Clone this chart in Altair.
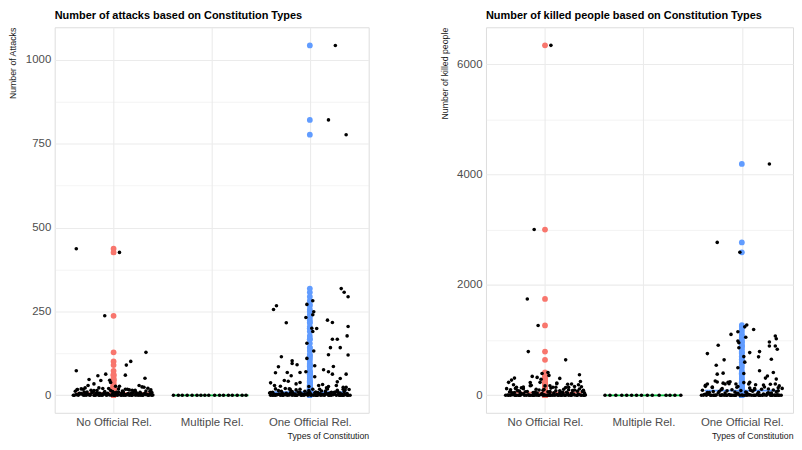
import altair as alt
import pandas as pd

categories = ["No Official Rel.", "Multiple Rel.", "One Official Rel."]
cat_colors = ["#F8766D", "#00BA38", "#619CFF"]

# ---------------- Number of attacks ----------------
att_none_vals = [437, 426, 237, 128, 101, 90, 73, 63, 58, 60,
                 47, 51, 44, 45, 38, 34, 29, 27, 27, 29,
                 24, 19, 22, 18, 16, 20, 15, 14, 21, 13, 17]
att_none_jit = [-0.38, 0.06, -0.09, 0.33, 0.175, 0.13, -0.38, -0.08, -0.16, 0.12,
                -0.25, 0.32, -0.13, -0.04, -0.03, -0.20, -0.26, 0.02, 0.06, 0.26,
                0.31, -0.33, -0.29, 0.14, 0.38, -0.05, 0.22, -0.17, 0.35, 0.09, -0.37]
att_none_low_vals = [0, 2, 0, 5, 1, 0, 3, 0, 8, 0,
                     1, 4, 0, 0, 6, 2, 0, 1, 0, 3,
                     0, 9, 0, 1, 0, 2, 0, 5, 0, 0,
                     7, 1, 0, 3, 0, 0, 2, 0, 4, 1,
                     0, 6, 0, 2, 0, 0, 1, 3, 0, 10,
                     0, 2, 0, 1, 0, 4, 0, 0, 5, 1]
att_none_low_jit = [-0.41, -0.38, -0.36, -0.33, -0.31, -0.28, -0.27, -0.24, -0.22, -0.20,
                    -0.18, -0.17, -0.14, -0.12, -0.10, -0.08, -0.07, -0.04, -0.02, -0.01,
                    0.01, 0.03, 0.04, 0.07, 0.08, 0.11, 0.12, 0.15, 0.16, 0.19,
                    0.20, 0.23, 0.25, 0.26, 0.29, 0.30, 0.33, 0.35, 0.37, 0.40,
                    -0.40, -0.35, -0.30, -0.25, -0.19, -0.15, -0.11, -0.06, 0.00, 0.05,
                    0.10, 0.14, 0.18, 0.22, 0.27, 0.31, 0.36, 0.39, -0.34, 0.02]
att_none_mid_vals = [12, 4, 18, 7, 2, 15, 9, 5, 22, 3,
                     11, 6, 14, 8, 3, 19, 5, 10, 2, 16,
                     7, 13, 4, 9, 25, 6, 3, 12, 8, 17,
                     5, 10, 2, 14, 7, 20, 4, 11, 6, 9,
                     3, 15, 8, 5, 13, 2, 10, 6, 18, 4]
att_none_mid_jit = [-0.39, -0.35, -0.31, -0.29, -0.26, -0.23, -0.21, -0.18, -0.15, -0.12,
                    -0.09, -0.06, -0.03, 0.00, 0.03, 0.05, 0.08, 0.10, 0.13, 0.16,
                    0.18, 0.21, 0.24, 0.27, 0.29, 0.32, 0.34, 0.37, 0.39, -0.37,
                    -0.33, -0.27, -0.24, -0.20, -0.16, -0.11, -0.07, -0.01, 0.04, 0.09,
                    0.14, 0.19, 0.23, 0.28, 0.33, 0.38, -0.30, -0.14, 0.12, 0.25]

att_multi_vals = [0, 0, 0, 0, 0, 0, 0, 0, 0, 0, 0, 0, 0, 0, 0, 0, 0]
att_multi_jit = [-0.39, -0.34, -0.30, -0.25, -0.20, -0.15, -0.11, -0.07, -0.03,
                 0.03, 0.08, 0.12, 0.17, 0.21, 0.26, 0.31, 0.35]

att_one_vals = [1043, 821, 777, 318, 307, 294, 267, 256, 216, 224,
                217, 200, 199, 205, 167, 167, 177, 142, 142, 121,
                120, 115, 103, 95, 91, 85, 88, 86, 76, 70,
                67, 68, 68, 70, 63, 63, 58, 55, 50, 44,
                42, 34, 38, 40, 37, 29, 27, 26, 29, 32,
                26, 29, 24, 19, 18, 18, 18, 19, 18, 282,
                271, 249, 240, 232, 190, 155, 132, 110]
att_one_jit = [0.26, 0.19, 0.37, 0.32, 0.35, 0.39, -0.34, -0.37, -0.24, 0.18,
               0.23, 0.02, 0.07, 0.39, 0.23, 0.28, 0.38, 0.21, 0.31, 0.19,
               0.39, -0.29, -0.18, -0.18, -0.13, -0.32, 0.05, 0.24, 0.14, 0.19,
               -0.35, -0.23, -0.10, -0.04, 0.23, 0.37, -0.19, 0.05, 0.31, -0.26,
               -0.22, -0.14, -0.10, 0.28, -0.40, -0.36, -0.30, -0.01, 0.09, 0.13,
               0.19, 0.27, 0.34, -0.35, -0.20, -0.10, 0.10, 0.18, 0.34, 0.03,
               -0.03, 0.04, 0.03, -0.04, 0.03, -0.03, 0.04, -0.03]
att_one_low_vals = [0, 1, 0, 3, 0, 0, 2, 0, 6, 0,
                    1, 0, 4, 0, 0, 2, 0, 8, 1, 0,
                    0, 3, 0, 1, 0, 5, 0, 0, 2, 0,
                    11, 0, 1, 0, 3, 0, 0, 7, 0, 2,
                    0, 1, 0, 0, 4, 0, 2, 0, 9, 0,
                    1, 0, 3, 0, 0, 6, 0, 1, 0, 2]
att_one_low_jit = [-0.40, -0.37, -0.35, -0.32, -0.30, -0.27, -0.25, -0.23, -0.20, -0.18,
                   -0.16, -0.13, -0.11, -0.09, -0.06, -0.05, -0.02, 0.00, 0.02, 0.04,
                   0.06, 0.09, 0.11, 0.13, 0.15, 0.17, 0.20, 0.22, 0.24, 0.27,
                   0.28, 0.30, 0.32, 0.34, 0.36, 0.38, 0.41, -0.41, -0.38, -0.33,
                   -0.28, -0.21, -0.15, -0.08, -0.03, 0.07, 0.12, 0.19, 0.25, 0.31,
                   0.35, 0.39, -0.26, -0.14, 0.01, 0.16, 0.33, -0.36, 0.08, 0.29]
att_one_mid_vals = [9, 3, 14, 6, 20, 2, 11, 5, 16, 8,
                    4, 12, 7, 3, 18, 10, 5, 13, 2, 22,
                    6, 9, 4, 15, 7, 3, 11, 5, 17, 8,
                    2, 12, 6, 19, 4, 10, 3, 14, 7, 5,
                    13, 2, 9, 6, 16, 4, 11, 8, 3, 24]
att_one_mid_jit = [-0.38, -0.36, -0.32, -0.28, -0.25, -0.22, -0.19, -0.17, -0.14, -0.10,
                   -0.08, -0.05, -0.02, 0.01, 0.03, 0.06, 0.09, 0.12, 0.14, 0.17,
                   0.20, 0.22, 0.25, 0.28, 0.30, 0.33, 0.35, 0.38, 0.40, -0.40,
                   -0.34, -0.29, -0.24, -0.21, -0.15, -0.12, -0.06, -0.01, 0.05, 0.10,
                   0.16, 0.21, 0.26, 0.31, 0.36, -0.31, -0.18, 0.08, 0.19, 0.37]

# ---------------- Number of killed people ----------------
kill_none_vals = [6340, 3003, 1745, 1265, 791, 642, 372, 342, 324, 311,
                  306, 275, 234, 234, 221, 203, 192, 174, 174, 156,
                  144, 144, 144, 120, 110, 100, 95, 90, 80, 75,
                  70, 60, 55, 50, 45, 40, 414, 395, 360, 290]
kill_none_jit = [0.06, -0.11, -0.18, -0.07, -0.17, 0.21, 0.35, -0.13, -0.08, -0.31,
                 0.15, -0.34, -0.37, -0.05, 0.12, 0.27, 0.34, -0.15, 0.05, 0.37,
                 0.08, 0.24, -0.29, -0.22, 0.19, -0.35, 0.30, -0.02, 0.11, -0.26,
                 0.38, -0.10, 0.22, -0.31, 0.05, 0.15, 0.03, -0.03, 0.04, -0.04]
kill_none_low_vals = [0, 5, 0, 12, 0, 2, 0, 25, 0, 1,
                      8, 0, 0, 30, 3, 0, 15, 0, 1, 0,
                      6, 0, 20, 0, 2, 0, 0, 10, 0, 35,
                      1, 0, 4, 0, 18, 0, 0, 7, 0, 3,
                      0, 28, 0, 1, 0, 9, 0, 0, 14, 0,
                      2, 0, 22, 0, 5, 0, 1, 0, 11, 0]
kill_none_low_jit = [-0.40, -0.38, -0.35, -0.33, -0.30, -0.29, -0.26, -0.24, -0.21, -0.19,
                     -0.17, -0.15, -0.12, -0.10, -0.09, -0.06, -0.04, -0.02, 0.00, 0.02,
                     0.04, 0.06, 0.09, 0.10, 0.13, 0.14, 0.17, 0.19, 0.21, 0.23,
                     0.26, 0.27, 0.30, 0.32, 0.34, 0.37, 0.39, 0.41, -0.37, -0.31,
                     -0.27, -0.22, -0.16, -0.11, -0.07, -0.01, 0.05, 0.08, 0.12, 0.16,
                     0.20, 0.24, 0.29, 0.33, 0.36, -0.25, -0.13, 0.03, 0.18, 0.40]
kill_none_mid_vals = [120, 60, 190, 85, 40, 150, 70, 230, 50, 110,
                      95, 30, 170, 65, 130, 45, 210, 80, 55, 140,
                      100, 35, 160, 75, 250, 90, 50, 125, 65, 180,
                      40, 105, 70, 145, 55, 200, 85, 115, 45, 135]
kill_none_mid_jit = [-0.39, -0.36, -0.32, -0.28, -0.25, -0.22, -0.18, -0.15, -0.12, -0.09,
                     -0.06, -0.03, 0.00, 0.03, 0.06, 0.09, 0.12, 0.15, 0.18, 0.21,
                     0.24, 0.27, 0.30, 0.33, 0.36, 0.39, -0.34, -0.30, -0.20, -0.14,
                     -0.08, -0.01, 0.05, 0.11, 0.16, 0.23, 0.28, 0.35, 0.40, -0.24]

kill_multi_vals = [0, 0, 0, 0, 0, 0, 0, 0, 0, 0, 0, 0, 0, 0, 0]
kill_multi_jit = [-0.39, -0.34, -0.28, -0.22, -0.17, -0.12, -0.07, -0.02,
                  0.04, 0.09, 0.16, 0.23, 0.27, 0.32, 0.38]

kill_one_vals = [4191, 2770, 2590, 1272, 1193, 1103, 1074, 1025, 984, 953,
                 966, 894, 894, 833, 905, 755, 791, 773, 696, 701,
                 642, 653, 545, 396, 444, 401, 383, 414, 311, 246,
                 234, 203, 234, 203, 293, 203, 203, 203, 162, 1240,
                 1150, 1050, 860, 600, 500, 350, 150, 120, 100, 80]
kill_one_jit = [0.28, -0.25, -0.02, 0.05, 0.12, -0.11, 0.34, 0.35, -0.04, -0.03,
                0.28, 0.28, 0.34, 0.36, -0.24, -0.35, 0.18, 0.08, 0.17, 0.02,
                -0.18, 0.30, -0.26, 0.02, 0.18, -0.19, -0.25, 0.32, 0.24, -0.12,
                -0.14, -0.17, 0.08, 0.07, 0.35, 0.34, -0.06, -0.35, -0.37, 0.03,
                -0.04, 0.04, -0.03, 0.03, -0.04, 0.26, -0.30, 0.13, -0.21, 0.37]
kill_one_low_vals = [0, 3, 0, 20, 0, 1, 0, 40, 0, 8,
                     0, 0, 15, 0, 2, 0, 30, 0, 5, 0,
                     0, 12, 0, 1, 0, 25, 0, 0, 6, 0,
                     45, 0, 2, 0, 10, 0, 0, 18, 0, 4,
                     0, 1, 0, 35, 0, 7, 0, 0, 22, 0,
                     3, 0, 14, 0, 0, 9, 0, 28, 0, 2]
kill_one_low_jit = [-0.41, -0.39, -0.36, -0.34, -0.31, -0.29, -0.27, -0.24, -0.22, -0.20,
                    -0.18, -0.15, -0.13, -0.11, -0.08, -0.06, -0.05, -0.02, 0.00, 0.03,
                    0.05, 0.07, 0.10, 0.12, 0.14, 0.16, 0.19, 0.21, 0.23, 0.25,
                    0.27, 0.30, 0.31, 0.34, 0.36, 0.38, 0.40, -0.37, -0.32, -0.26,
                    -0.21, -0.16, -0.10, -0.04, 0.01, 0.08, 0.13, 0.18, 0.22, 0.29,
                    0.33, 0.37, -0.38, -0.28, -0.12, 0.06, 0.17, 0.26, 0.35, -0.07]
kill_one_mid_vals = [90, 180, 50, 140, 260, 70, 120, 40, 210, 100,
                     60, 160, 85, 230, 45, 130, 75, 190, 55, 110,
                     150, 35, 200, 95, 65, 170, 125, 50, 240, 80,
                     145, 60, 105, 185, 40, 135, 70, 220, 90, 115]
kill_one_mid_jit = [-0.40, -0.37, -0.33, -0.30, -0.27, -0.23, -0.20, -0.17, -0.13, -0.10,
                    -0.07, -0.04, -0.01, 0.02, 0.05, 0.08, 0.11, 0.14, 0.17, 0.20,
                    0.23, 0.26, 0.29, 0.32, 0.35, 0.38, 0.41, -0.35, -0.25, -0.15,
                    -0.05, 0.04, 0.13, 0.22, 0.30, 0.37, -0.29, -0.19, 0.09, 0.27]


def build(groups):
    rows = []
    for ci, parts in enumerate(groups):
        for vals, jits in parts:
            for v, j in zip(vals, jits):
                rows.append({"cat": categories[ci], "ci": ci, "value": v, "jit": j})
    return pd.DataFrame(rows)


att_df = build([
    [(att_none_vals, att_none_jit), (att_none_low_vals, att_none_low_jit),
     (att_none_mid_vals, att_none_mid_jit)],
    [(att_multi_vals, att_multi_jit)],
    [(att_one_vals, att_one_jit), (att_one_low_vals, att_one_low_jit),
     (att_one_mid_vals, att_one_mid_jit)],
])
kill_df = build([
    [(kill_none_vals, kill_none_jit), (kill_none_low_vals, kill_none_low_jit),
     (kill_none_mid_vals, kill_none_mid_jit)],
    [(kill_multi_vals, kill_multi_jit)],
    [(kill_one_vals, kill_one_jit), (kill_one_low_vals, kill_one_low_jit),
     (kill_one_mid_vals, kill_one_mid_jit)],
])

FONT = "Liberation Sans"
label_expr = "[" + ",".join("'" + c + "'" for c in categories) + "][datum.value]"
BOX_HALF = 0.375


def panel(df, title, ytitle, ydomain, yticks, major, xmax, width):
    x_axis = alt.Axis(values=[0, 1, 2], labelExpr=label_expr, title="Types of Constitution",
                      titleAnchor="end", titleFontSize=8.8, titleFontWeight="normal",
                      titleColor="#1a1a1a", titlePadding=3, labelPadding=4,
                      labelFontSize=11.5, labelColor="#4D4D4D", ticks=False, domain=False,
                      grid=True, gridColor="#EBEBEB", gridWidth=1.1)
    y_axis = alt.Axis(values=yticks, format="d",
                      labelExpr="datum.value % " + str(major) + " === 0 ? datum.label : ''",
                      title=ytitle, titleAnchor="end", titleFontSize=8.8,
                      titleFontWeight="normal", titleColor="#1a1a1a", titlePadding=7.5,
                      labelPadding=4, labelFontSize=11.5, labelColor="#4D4D4D",
                      ticks=False, domain=False, grid=True, gridColor="#EBEBEB",
                      gridWidth={"condition": {"test": "datum.value % " + str(major) + " === 0",
                                               "value": 1.1}, "value": 0.55})
    xs = alt.Scale(domain=[-0.6, xmax], nice=False, zero=False)
    ys = alt.Scale(domain=ydomain, nice=False, zero=False)
    cscale = alt.Scale(domain=categories, range=cat_colors)
    base = alt.Chart(df)

    # degenerate box (median line) of the boxplot, coloured per category
    box = base.transform_aggregate(
        med="median(value)", groupby=["ci", "cat"]
    ).transform_calculate(
        lo="datum.ci - " + str(BOX_HALF), hi="datum.ci + " + str(BOX_HALF)
    ).mark_rule(strokeWidth=1.8).encode(
        x=alt.X("lo:Q", scale=xs, axis=x_axis), x2="hi:Q",
        y=alt.Y("med:Q", scale=ys, axis=y_axis),
        color=alt.Color("cat:N", scale=cscale, legend=None),
    )
    # boxplot outliers, at the category centre
    colored = base.transform_filter("datum.value > 0").mark_circle(size=34, opacity=1).encode(
        x=alt.X("ci:Q", scale=xs, axis=x_axis),
        y=alt.Y("value:Q", scale=ys, axis=y_axis),
        color=alt.Color("cat:N", scale=cscale, legend=None),
    )
    # jittered raw points
    black = base.transform_calculate(xj="datum.ci + datum.jit").mark_circle(
        size=13, opacity=1, color="black").encode(
        x=alt.X("xj:Q", scale=xs, axis=x_axis),
        y=alt.Y("value:Q", scale=ys, axis=y_axis),
    )
    return alt.layer(box, colored, black).properties(
        width=width, height=388,
        title=alt.TitleParams(title, anchor="start", frame="group", fontSize=11,
                              fontWeight="bold", font=FONT, color="black", offset=6),
    )


left = panel(att_df, "Number of attacks based on Constitution Types", "Number of Attacks",
             [-52.25, 1097.25], [0, 125, 250, 375, 500, 625, 750, 875, 1000], 250, 2.6, 316)
right = panel(kill_df, "Number of killed people based on Constitution Types", "Number of killed people",
              [-317.5, 6667.5], [0, 1000, 2000, 3000, 4000, 5000, 6000], 2000, 2.52, 309)

chart = alt.hconcat(left, right, spacing=70).properties(
    padding={"left": 0, "top": 0, "right": 0, "bottom": 0}
).configure_view(stroke=None).configure_axis(
    labelFont=FONT, titleFont=FONT
).configure(background="white")

chart.save("out.html", embed_options={"renderer": "svg", "actions": False})
